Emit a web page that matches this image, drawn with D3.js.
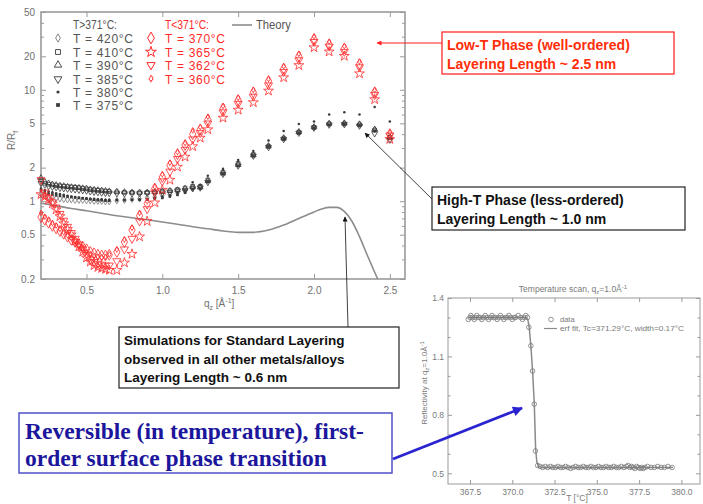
<!DOCTYPE html>
<html>
<head>
<meta charset="utf-8">
<script src="https://cdn.jsdelivr.net/npm/d3@7"></script>
<style>
  body { margin: 0; background: #fff; }
  svg { display: block; font-family: "Liberation Sans", Arial, sans-serif; }
</style>
</head>
<body>
<div id="slide"></div>
<script>
// q_z grid shared by every reflectivity series
const qValues = [0.20, 0.225, 0.25, 0.275, 0.30, 0.325, 0.35, 0.375, 0.40, 0.425, 0.45, 0.475, 0.50, 0.525, 0.55, 0.575, 0.60, 0.625, 0.65,
    0.70, 0.75, 0.80, 0.85, 0.90, 0.95, 1.00, 1.05, 1.10, 1.15, 1.20, 1.25, 1.30, 1.40, 1.50, 1.60, 1.70, 1.80, 1.90, 2.00, 2.10, 2.20, 2.30, 2.40, 2.50];

const highTemps = ['420°C', '410°C', '390°C', '385°C', '380°C', '375°C'];
const lowTemps = ['370°C', '365°C', '362°C', '360°C'];

// T > 371°C
const r420 = [1.15, 1.12, 1.10, 1.08, 1.06, 1.05, 1.04, 1.03, 1.03, 1.02, 1.02, 1.02, 1.01, 1.01, 1.00, 1.00, 1.00, 0.99, 0.99,
    1.01, 1.02, 1.04, 1.05, 1.07, 1.09, 1.12, 1.15, 1.19, 1.24, 1.30, 1.35, 1.52, 1.80, 2.15, 2.60, 3.15, 3.70, 4.20, 4.65, 4.95, 5.00, 4.90, 4.40, 3.80];
const r410 = [1.55, 1.45, 1.42, 1.40, 1.38, 1.37, 1.36, 1.35, 1.34, 1.33, 1.32, 1.30, 1.29, 1.27, 1.26, 1.25, 1.24, 1.23, 1.22,
    1.21, 1.20, 1.20, 1.19, 1.20, 1.21, 1.23, 1.24, 1.27, 1.31, 1.36, 1.36, 1.55, 1.82, 2.18, 2.62, 3.10, 3.65, 4.15, 4.60, 4.95, 4.95, 4.85, 4.35, 3.75];
const r390 = [1.62, 1.50, 1.45, 1.42, 1.40, 1.38, 1.37, 1.35, 1.34, 1.33, 1.32, 1.31, 1.30, 1.28, 1.27, 1.26, 1.25, 1.24, 1.23,
    1.22, 1.21, 1.20, 1.20, 1.20, 1.21, 1.22, 1.24, 1.26, 1.30, 1.34, 1.33, 1.52, 1.78, 2.12, 2.58, 3.12, 3.68, 4.18, 4.62, 4.98, 5.02, 4.92, 4.42, 3.70];
const r385 = [1.45, 1.40, 1.36, 1.34, 1.33, 1.31, 1.30, 1.29, 1.28, 1.27, 1.26, 1.25, 1.24, 1.22, 1.21, 1.20, 1.19, 1.18, 1.18,
    1.17, 1.17, 1.17, 1.17, 1.18, 1.18, 1.19, 1.20, 1.24, 1.25, 1.30, 1.32, 1.48, 1.75, 2.08, 2.55, 3.05, 3.60, 4.10, 4.55, 4.85, 4.90, 4.75, 4.05, 3.55];
const r380 = [1.30, 1.25, 1.22, 1.20, 1.18, 1.16, 1.14, 1.12, 1.10, 1.09, 1.08, 1.07, 1.06, 1.05, 1.05, 1.04, 1.04, 1.03, 1.03,
    1.03, 1.03, 1.03, 1.04, 1.05, 1.07, 1.10, 1.13, 1.19, 1.24, 1.48, 1.40, 1.69, 1.95, 2.34, 2.82, 3.50, 4.26, 4.93, 5.20, 6.00, 6.30, 6.00, 7.00, 5.20];
const r375 = [1.25, 1.20, 1.17, 1.15, 1.13, 1.12, 1.11, 1.10, 1.09, 1.08, 1.07, 1.06, 1.05, 1.04, 1.03, 1.02, 1.02, 1.01, 1.01,
    1.02, 1.02, 1.03, 1.03, 1.04, 1.06, 1.07, 1.10, 1.14, 1.19, 1.28, 1.30, 1.50, 1.76, 2.07, 2.56, 3.10, 3.62, 4.10, 4.55, 4.85, 4.90, 4.80, 4.30, 3.65];

// T < 371°C
const r370 = [0.72, 0.68, 0.64, 0.60, 0.57, 0.54, 0.51, 0.48, 0.45, 0.43, 0.41, 0.39, 0.37, 0.35, 0.34, 0.33, 0.325, 0.325, 0.33,
    0.35, 0.43, 0.55, 0.74, 0.95, 1.30, 1.65, 2.10, 2.65, 3.20, 4.00, 4.40, 5.40, 6.80, 8.10, 9.50, 12.0, 15.5, 20.0, 28.5, 25.5, 23.5, 17.0, 9.5, 4.0];
const r365 = [1.15, 1.10, 1.03, 0.95, 0.84, 0.73, 0.63, 0.56, 0.50, 0.44, 0.39, 0.35, 0.31, 0.285, 0.265, 0.255, 0.25, 0.245, 0.24,
    0.24, 0.28, 0.335, 0.48, 0.66, 0.97, 1.26, 1.55, 2.03, 2.50, 3.10, 3.70, 4.40, 5.60, 6.60, 7.70, 9.80, 12.9, 16.6, 24.0, 22.0, 20.1, 14.0, 8.2, 3.6];
const r362 = [1.55, 1.20, 1.08, 0.98, 0.88, 0.77, 0.67, 0.59, 0.52, 0.46, 0.41, 0.37, 0.33, 0.30, 0.285, 0.275, 0.27, 0.265, 0.265,
    0.29, 0.37, 0.46, 0.66, 0.85, 1.20, 1.51, 1.85, 2.40, 2.90, 3.60, 4.10, 5.00, 6.30, 7.50, 8.70, 11.0, 14.5, 18.5, 27.0, 24.5, 22.0, 16.0, 9.0, 3.9];
const r360 = [0.78, 0.72, 0.68, 0.63, 0.60, 0.56, 0.52, 0.49, 0.46, 0.43, 0.40, 0.375, 0.35, 0.335, 0.32, 0.315, 0.31, 0.315, 0.33,
    0.365, 0.448, 0.573, 0.78, 0.99, 1.34, 1.73, 2.20, 2.74, 3.30, 4.30, 4.60, 5.70, 7.10, 8.40, 9.90, 12.4, 16.2, 20.9, 30.0, 26.9, 24.5, 17.8, 9.9, 4.1];

// Theory curve
const theoryQ = [0.20, 0.30, 0.40, 0.50, 0.60, 0.70, 0.80, 0.90, 1.00, 1.10, 1.20, 1.30, 1.40, 1.50, 1.60, 1.70, 1.80, 1.90, 2.00, 2.05, 2.10, 2.15, 2.20, 2.25, 2.30, 2.35, 2.40, 2.42];
const theoryR = [0.96, 0.91, 0.86, 0.82, 0.78, 0.74, 0.71, 0.68, 0.65, 0.62, 0.59, 0.565, 0.54, 0.525, 0.525, 0.55, 0.61, 0.70, 0.80, 0.85, 0.88, 0.88, 0.81, 0.66, 0.48, 0.33, 0.23, 0.20];

const yTicks = [0.2, 0.5, 1, 2, 5, 10, 20, 50];
const xTicks = [0.5, 1.0, 1.5, 2.0, 2.5];

// Inset: temperature scan at q_z = 1.0
const scanHigh = [[367.40, 1.29], [367.50, 1.30], [367.55, 1.31], [367.65, 1.30], [367.75, 1.29], [367.80, 1.30], [367.90, 1.31], [368.00, 1.30],
    [368.10, 1.30], [368.20, 1.29], [368.30, 1.30], [368.40, 1.31], [368.50, 1.30], [368.60, 1.29], [368.70, 1.30], [368.80, 1.31],
    [368.90, 1.30], [369.00, 1.30], [369.10, 1.29], [369.20, 1.30], [369.30, 1.31], [369.40, 1.30], [369.50, 1.29], [369.60, 1.30],
    [369.70, 1.30], [369.80, 1.31], [369.90, 1.30], [370.00, 1.29], [370.10, 1.30], [370.20, 1.30], [370.35, 1.31], [370.50, 1.30],
    [370.60, 1.29], [370.70, 1.30], [370.80, 1.31], [370.90, 1.30]];
const scanStep = [[370.98, 1.25], [371.10, 1.155], [371.20, 1.025], [371.30, 0.855], [371.37, 0.615]];
const scanLow = [[371.50, 0.54], [371.65, 0.535], [371.80, 0.53], [371.95, 0.535], [372.10, 0.53], [372.25, 0.535], [372.40, 0.53], [372.55, 0.53],
    [372.70, 0.535], [372.85, 0.53], [373.00, 0.53], [373.15, 0.535], [373.30, 0.53], [373.45, 0.525], [373.60, 0.53], [373.75, 0.535],
    [373.90, 0.53], [374.05, 0.53], [374.20, 0.535], [374.35, 0.53], [374.50, 0.53], [374.65, 0.535], [374.80, 0.53], [374.95, 0.53],
    [375.10, 0.535], [375.25, 0.53], [375.40, 0.53], [375.55, 0.535], [375.70, 0.53], [375.85, 0.53], [376.00, 0.535], [376.15, 0.53],
    [376.30, 0.53], [376.45, 0.535], [376.60, 0.53], [376.75, 0.535], [376.85, 0.54], [376.95, 0.53], [377.05, 0.535], [377.15, 0.53],
    [377.25, 0.525], [377.35, 0.535], [377.45, 0.53], [377.55, 0.525], [377.65, 0.53], [377.75, 0.525], [377.85, 0.53], [378.00, 0.535],
    [378.20, 0.53], [378.40, 0.53], [378.60, 0.535], [378.80, 0.53], [379.00, 0.53], [379.20, 0.535], [379.45, 0.53]];
const fitCurve = [[367.40, 1.30], [370.80, 1.30], [370.92, 1.29], [371.00, 1.25], [371.10, 1.155], [371.20, 1.025], [371.30, 0.86],
    [371.38, 0.63], [371.45, 0.56], [371.55, 0.535], [371.80, 0.53], [379.50, 0.53]];
const scanYTicks = [0.5, 0.8, 1.1, 1.4];
const scanXTicks = [367.5, 370.0, 372.5, 375.0, 377.5, 380.0];

const width = 703;
const height = 504;
const svg = d3.select('#slide')
    .append('svg')
        .attr('width', width)
        .attr('height', height);

svg.append('rect').attr('width', width).attr('height', height).attr('fill', '#fff');

const defs = svg.append('defs');
function arrowHead(id, color, w, h) {
    defs.append('marker')
        .attr('id', id)
        .attr('viewBox', '0 0 10 10')
        .attr('refX', 9).attr('refY', 5)
        .attr('markerWidth', w).attr('markerHeight', h)
        .attr('markerUnits', 'userSpaceOnUse')
        .attr('orient', 'auto')
        .append('path')
            .attr('d', 'M0,0 L10,5 L0,10 Z')
            .attr('fill', color);
}
arrowHead('arrow-red', '#ff2020', 6, 5);
arrowHead('arrow-black', '#111', 6, 5);
arrowHead('arrow-blue', '#2a24d0', 12, 10);

// ---------------- main chart ----------------
const x = d3.scaleLinear().domain([0.2, 2.6]).range([41, 405]);
const y = d3.scaleLog().domain([0.2, 50]).range([279, 12]);
const frameColor = '#9a9a9a';
const tickText = '#707070';

const main = svg.append('g');

const minorY = [];
[0.1, 1, 10].forEach(dec => d3.range(1, 10).forEach(m => {
    const v = +(dec * m).toPrecision(3);
    if (v > 0.2 && v < 50 && !yTicks.includes(v)) minorY.push(v);
}));

function styleAxis(g) {
    g.select('.domain').remove();
    g.selectAll('line').attr('stroke', frameColor);
    g.selectAll('text').attr('fill', tickText).attr('font-size', 10);
}

main.append('g').attr('transform', 'translate(0,279)')
    .call(d3.axisBottom(x).tickValues(xTicks).tickFormat(d3.format('.1f')).tickSize(-5).tickPadding(8))
    .call(styleAxis);
main.append('g').attr('transform', 'translate(0,12)')
    .call(d3.axisTop(x).tickValues(xTicks).tickFormat('').tickSize(-5))
    .call(styleAxis);
main.append('g').attr('transform', 'translate(41,0)')
    .call(d3.axisLeft(y).tickValues(yTicks).tickFormat(d => d).tickSize(-5).tickPadding(6))
    .call(styleAxis);
main.append('g').attr('transform', 'translate(41,0)')
    .call(d3.axisLeft(y).tickValues(minorY).tickFormat('').tickSize(-3))
    .call(styleAxis);
main.append('g').attr('transform', 'translate(405,0)')
    .call(d3.axisRight(y).tickValues(yTicks).tickFormat('').tickSize(-5))
    .call(styleAxis);
main.append('g').attr('transform', 'translate(405,0)')
    .call(d3.axisRight(y).tickValues(minorY).tickFormat('').tickSize(-3))
    .call(styleAxis);

main.append('rect')
    .attr('x', 41).attr('y', 12)
    .attr('width', x(2.6) - 41).attr('height', 279 - 12)
    .attr('fill', 'none')
    .attr('stroke', frameColor)
    .attr('stroke-width', 1.6);

// axis titles
const xTitle = main.append('text')
    .attr('x', 204).attr('y', 307)
    .attr('fill', tickText).attr('font-size', 10);
xTitle.append('tspan').text('q');
xTitle.append('tspan').attr('font-size', 7).attr('dy', 3).text('z');
xTitle.append('tspan').attr('dy', -3).text(' [Å');
xTitle.append('tspan').attr('font-size', 7).attr('dy', -4).text('-1');
xTitle.append('tspan').attr('dy', 4).text(']');

const yTitle = main.append('text')
    .attr('transform', 'translate(15,150) rotate(-90)')
    .attr('fill', tickText).attr('font-size', 10);
yTitle.append('tspan').text('R/R');
yTitle.append('tspan').attr('font-size', 7).attr('dy', 3).text('f');

// theory line
const theoryLine = d3.line()
    .x((d, i) => x(theoryQ[i]))
    .y(d => y(d))
    .curve(d3.curveMonotoneX);
main.append('path')
    .datum(theoryR)
    .attr('d', theoryLine)
    .attr('fill', 'none')
    .attr('stroke', '#8c8c8c')
    .attr('stroke-width', 1.6);

// symbols
const black = '#3a3a3a';
const red = '#ff2a2a';
const downTriangle = { draw(ctx, size) { d3.symbolTriangle.draw(ctx, size); } };
const clubShape = {
    draw(ctx, size) {
        const r = Math.sqrt(size / 5);
        ctx.moveTo(0, -2.2 * r);
        ctx.lineTo(r * 1.1, -0.9 * r);
        ctx.arc(0, 0, r * 1.1, -0.9, Math.PI + 0.9);
        ctx.closePath();
        ctx.moveTo(0, r * 1.1);
        ctx.lineTo(0, r * 2.0);
    }
};

const highSeries = [
    { values: r420, type: d3.symbolDiamond, size: 12, legend: 20, fill: 'none', stroke: '#777', rot: 0 },
    { values: r410, type: d3.symbolSquare, size: 14, legend: 24, fill: 'none', stroke: black, rot: 0 },
    { values: r390, type: d3.symbolTriangle, size: 14, legend: 24, fill: 'none', stroke: black, rot: 0 },
    { values: r385, type: downTriangle, size: 16, legend: 26, fill: 'none', stroke: black, rot: 180 },
    { values: r380, type: d3.symbolCircle, size: 5, legend: 8, fill: black, stroke: 'none', rot: 0 },
    { values: r375, type: d3.symbolSquare, size: 7, legend: 14, fill: black, stroke: 'none', rot: 0 }
];
const lowSeries = [
    { values: r370, type: d3.symbolDiamond, size: 34, legend: 40, fill: 'none', stroke: red, rot: 0 },
    { values: r365, type: d3.symbolStar, size: 30, legend: 36, fill: 'none', stroke: red, rot: 0 },
    { values: r362, type: downTriangle, size: 28, legend: 30, fill: 'none', stroke: red, rot: 180 },
    { values: r360, type: clubShape, size: 10, legend: 14, fill: 'none', stroke: red, rot: 0 }
];

function drawSeries(group, s) {
    group.append('g')
        .selectAll('path')
        .data(s.values)
        .join('path')
            .attr('transform', (d, i) => `translate(${x(qValues[i])},${y(d)}) rotate(${s.rot})`)
            .attr('d', d3.symbol().type(s.type).size(s.size))
            .attr('fill', s.fill)
            .attr('stroke', s.stroke)
            .attr('stroke-width', 0.8);
}
const points = main.append('g');
highSeries.forEach(s => drawSeries(points, s));
lowSeries.forEach(s => drawSeries(points, s));

// legend
const legend = main.append('g').attr('font-size', 12);
legend.append('text').attr('x', 73).attr('y', 29).attr('fill', '#555')
    .attr('textLength', 44).attr('lengthAdjust', 'spacingAndGlyphs').text('T>371°C:');
legend.append('text').attr('x', 165).attr('y', 29).attr('fill', red)
    .attr('textLength', 44).attr('lengthAdjust', 'spacingAndGlyphs').text('T<371°C:');
const rowY = [38, 52, 65, 79, 92, 105];
highTemps.forEach((t, i) => {
    const s = highSeries[i];
    legend.append('path')
        .attr('transform', `translate(58,${rowY[i]}) rotate(${s.rot})`)
        .attr('d', d3.symbol().type(s.type).size(s.legend))
        .attr('fill', s.fill).attr('stroke', s.stroke).attr('stroke-width', 0.9);
    legend.append('text')
        .attr('x', 73).attr('y', rowY[i] + 4.5)
        .attr('fill', '#555')
        .attr('textLength', 60).attr('lengthAdjust', 'spacing')
        .text('T = ' + t);
});
lowTemps.forEach((t, i) => {
    const s = lowSeries[i];
    legend.append('path')
        .attr('transform', `translate(151,${rowY[i]}) rotate(${s.rot})`)
        .attr('d', d3.symbol().type(s.type).size(s.legend))
        .attr('fill', s.fill).attr('stroke', s.stroke).attr('stroke-width', 1);
    legend.append('text')
        .attr('x', 165).attr('y', rowY[i] + 4.5)
        .attr('fill', red)
        .attr('textLength', 60).attr('lengthAdjust', 'spacing')
        .text('T = ' + t);
});
legend.append('line')
    .attr('x1', 232).attr('x2', 252).attr('y1', 25).attr('y2', 25)
    .attr('stroke', '#8c8c8c').attr('stroke-width', 1.6);
legend.append('text').attr('x', 256).attr('y', 29).attr('fill', '#555')
    .attr('textLength', 35).attr('lengthAdjust', 'spacingAndGlyphs').text('Theory');

// ---------------- annotation boxes ----------------
function box(x0, y0, w, h, stroke, lines, opts) {
    const g = svg.append('g');
    g.append('rect')
        .attr('x', x0).attr('y', y0).attr('width', w).attr('height', h)
        .attr('fill', '#fff').attr('stroke', stroke).attr('stroke-width', opts.sw || 1.2);
    lines.forEach((line, i) => {
        g.append('text')
            .attr('x', x0 + opts.pad)
            .attr('y', y0 + opts.first + i * opts.lead)
            .attr('fill', opts.color)
            .attr('font-family', opts.family)
            .attr('font-weight', 'bold')
            .attr('font-size', opts.size)
            .text(line);
    });
}

svg.append('line')
    .attr('x1', 442).attr('y1', 43).attr('x2', 377).attr('y2', 43)
    .attr('stroke', '#ff2020').attr('stroke-width', 1)
    .attr('marker-end', 'url(#arrow-red)');
box(442, 32, 232, 42, '#ff1a1a', ['Low-T Phase (well-ordered)', 'Layering Length ~ 2.5 nm'],
    { pad: 5, first: 18, lead: 18.5, size: 14, color: '#ff2e0a', family: '"Liberation Sans", Arial, sans-serif' });

svg.append('line')
    .attr('x1', 432).attr('y1', 199).attr('x2', 365).attr('y2', 133)
    .attr('stroke', '#111').attr('stroke-width', 0.8)
    .attr('marker-end', 'url(#arrow-black)');
box(432, 187, 253, 43, '#222', ['High-T Phase (less-ordered)', 'Layering Length ~ 1.0 nm'],
    { pad: 5, first: 18, lead: 18.5, size: 14, color: '#111', family: '"Liberation Sans", Arial, sans-serif' });

svg.append('line')
    .attr('x1', 348).attr('y1', 327).attr('x2', 345).attr('y2', 217)
    .attr('stroke', '#111').attr('stroke-width', 0.8)
    .attr('marker-end', 'url(#arrow-black)');
box(119, 327, 280, 61, '#222', ['Simulations for Standard Layering', 'observed in all other metals/alloys', 'Layering Length ~ 0.6 nm'],
    { pad: 5, first: 18, lead: 18.5, size: 13.5, color: '#111', family: '"Liberation Sans", Arial, sans-serif' });

box(19, 413, 373, 60, '#5050c8', ['Reversible (in temperature), first-', 'order surface phase transition'],
    { pad: 6, first: 26, lead: 27, size: 23.5, color: '#1c169c', family: '"Liberation Serif", "Times New Roman", serif', sw: 1.5 });

// ---------------- inset: temperature scan ----------------
const sx = d3.scaleLinear().domain([366.2, 381.1]).range([448, 700]);
const sy = d3.scaleLinear().domain([0.445, 1.4]).range([484, 298]);
const inset = svg.append('g');
const insetText = '#7a7a7a';

function styleInset(g) {
    g.select('.domain').remove();
    g.selectAll('line').attr('stroke', '#9a9a9a');
    g.selectAll('text').attr('fill', insetText).attr('font-size', 8.5);
}
const scanMinorY = d3.range(5, 14).map(v => v / 10).filter(v => !scanYTicks.includes(v));
inset.append('g').attr('transform', 'translate(0,484)')
    .call(d3.axisBottom(sx).tickValues(scanXTicks).tickFormat(d3.format('.1f')).tickSize(-4).tickPadding(5))
    .call(styleInset);
inset.append('g').attr('transform', 'translate(0,298)')
    .call(d3.axisTop(sx).tickValues(scanXTicks).tickFormat('').tickSize(-4))
    .call(styleInset);
inset.append('g').attr('transform', 'translate(448,0)')
    .call(d3.axisLeft(sy).tickValues(scanYTicks).tickFormat(d3.format('.1f')).tickSize(-4).tickPadding(4))
    .call(styleInset);
inset.append('g').attr('transform', 'translate(448,0)')
    .call(d3.axisLeft(sy).tickValues(scanMinorY).tickFormat('').tickSize(-2.5))
    .call(styleInset);
inset.append('g').attr('transform', 'translate(700,0)')
    .call(d3.axisRight(sy).tickValues(scanYTicks).tickFormat('').tickSize(-4))
    .call(styleInset);
inset.append('g').attr('transform', 'translate(700,0)')
    .call(d3.axisRight(sy).tickValues(scanMinorY).tickFormat('').tickSize(-2.5))
    .call(styleInset);
inset.append('rect')
    .attr('x', 448).attr('y', 298).attr('width', 252).attr('height', 186)
    .attr('fill', 'none').attr('stroke', '#9a9a9a').attr('stroke-width', 1);

inset.append('path')
    .datum(fitCurve)
    .attr('d', d3.line().x(d => sx(d[0])).y(d => sy(d[1])))
    .attr('fill', 'none').attr('stroke', '#8a8a8a').attr('stroke-width', 1.5);

inset.append('g')
    .selectAll('circle')
    .data(scanHigh.concat(scanStep, scanLow))
    .join('circle')
        .attr('cx', d => sx(d[0]))
        .attr('cy', d => sy(d[1]))
        .attr('r', 2.3)
        .attr('fill', 'none')
        .attr('stroke', '#7a7a7a')
        .attr('stroke-width', 0.8);

const title = inset.append('text')
    .attr('x', 573).attr('y', 292).attr('text-anchor', 'middle')
    .attr('fill', insetText).attr('font-size', 8.5);
title.append('tspan').text('Temperature scan, q');
title.append('tspan').attr('font-size', 6).attr('dy', 2).text('z');
title.append('tspan').attr('dy', -2).text('=1.0Å');
title.append('tspan').attr('font-size', 6).attr('dy', -3).text('-1');

const scanYLabel = inset.append('text')
    .attr('transform', 'translate(427,383) rotate(-90)')
    .attr('text-anchor', 'middle')
    .attr('fill', insetText).attr('font-size', 8);
scanYLabel.append('tspan').text('Reflectivity at q');
scanYLabel.append('tspan').attr('font-size', 6).attr('dy', 2).text('z');
scanYLabel.append('tspan').attr('dy', -2).text('=1.0Å');
scanYLabel.append('tspan').attr('font-size', 6).attr('dy', -3).text('-1');

inset.append('text')
    .attr('x', 577).attr('y', 501).attr('text-anchor', 'middle')
    .attr('fill', insetText).attr('font-size', 8.5)
    .text('T [°C]');

inset.append('circle').attr('cx', 551).attr('cy', 319.5).attr('r', 2.3)
    .attr('fill', 'none').attr('stroke', '#7a7a7a').attr('stroke-width', 0.8);
inset.append('text').attr('x', 560).attr('y', 322).attr('fill', insetText).attr('font-size', 7.5).text('data');
inset.append('line').attr('x1', 544).attr('x2', 557).attr('y1', 328.5).attr('y2', 328.5)
    .attr('stroke', '#8a8a8a').attr('stroke-width', 1.2);
inset.append('text').attr('x', 560).attr('y', 331).attr('fill', insetText).attr('font-size', 7.5)
    .attr('textLength', 124).attr('lengthAdjust', 'spacingAndGlyphs')
    .text('erf fit, Tc=371.29°C, width=0.17°C');

// blue arrow into the inset
svg.append('line')
    .attr('x1', 393).attr('y1', 459).attr('x2', 522).attr('y2', 408)
    .attr('stroke', '#2a24d0').attr('stroke-width', 2.6)
    .attr('marker-end', 'url(#arrow-blue)');
</script>
</body>
</html>
